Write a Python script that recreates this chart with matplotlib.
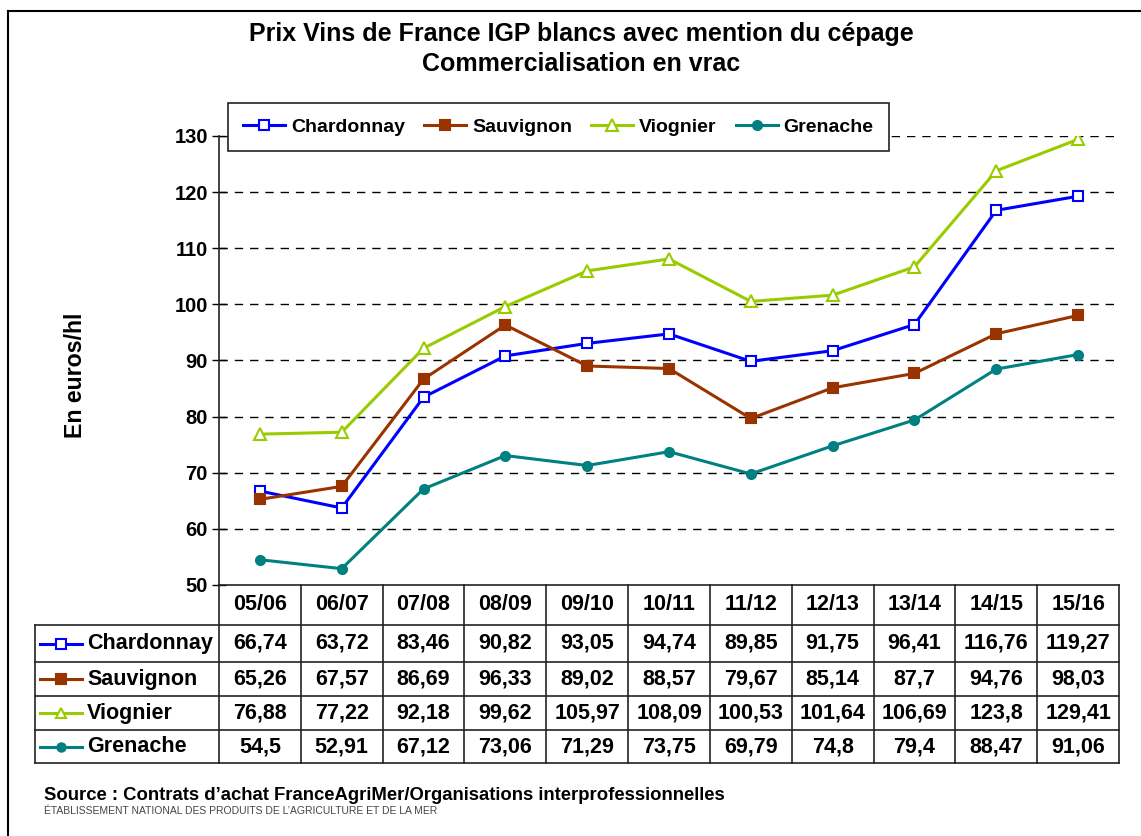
import matplotlib.pyplot as plt
import matplotlib.transforms as mtransforms
from matplotlib.lines import Line2D

plt.rcParams['font.family'] = ['Liberation Sans', 'DejaVu Sans']

# donnees (euros/hl)
campagnes = ["05/06", "06/07", "07/08", "08/09", "09/10", "10/11",
             "11/12", "12/13", "13/14", "14/15", "15/16"]
chardonnay = [66.74, 63.72, 83.46, 90.82, 93.05, 94.74, 89.85, 91.75, 96.41, 116.76, 119.27]
sauvignon = [65.26, 67.57, 86.69, 96.33, 89.02, 88.57, 79.67, 85.14, 87.7, 94.76, 98.03]
viognier = [76.88, 77.22, 92.18, 99.62, 105.97, 108.09, 100.53, 101.64, 106.69, 123.8, 129.41]
grenache = [54.5, 52.91, 67.12, 73.06, 71.29, 73.75, 69.79, 74.8, 79.4, 88.47, 91.06]
cepages = ["Chardonnay", "Sauvignon", "Viognier", "Grenache"]

W, H = 1141, 836
fig = plt.figure(figsize=(W / 100, H / 100), dpi=100)


def fx(px):
    return px / W


def fy(py):
    return 1 - py / H


ax = fig.add_axes([fx(219), fy(585), fx(1119) - fx(219), fy(136) - fy(585)])

styles = [
    dict(color='#0000FF', marker='s', mfc='white', ms=7),
    dict(color='#993300', marker='s', mfc='#993300', ms=7),
    dict(color='#99CC00', marker='^', mfc='white', ms=8),
    dict(color='#008080', marker='o', mfc='#008080', ms=6.5),
]
series = [chardonnay, sauvignon, viognier, grenache]
x = list(range(len(campagnes)))

for nom, vals, st in zip(cepages, series, styles):
    ax.plot(x, vals, color=st['color'], marker=st['marker'], mfc=st['mfc'],
            mec=st['color'], ms=st['ms'], mew=1.5, lw=2.2, label=nom, zorder=3)

ax.set_xlim(-0.5, len(campagnes) - 0.5)
ax.set_ylim(50, 130)
ax.set_yticks(range(50, 131, 10))
ax.set_xticks([])
for yv in range(60, 131, 10):
    ax.axhline(yv, color='black', lw=1, ls=(0, (6, 5)), zorder=1)
ax.spines['top'].set_visible(False)
ax.spines['right'].set_visible(False)
ax.spines['left'].set_color('#222222')
ax.spines['bottom'].set_color('#222222')
ax.spines['left'].set_linewidth(1.2)
ax.spines['bottom'].set_linewidth(1.2)
ax.tick_params(axis='y', direction='inout', length=10, width=1, labelsize=14.5, pad=3)
for lab in ax.get_yticklabels():
    lab.set_fontweight('bold')

# legende
leg = ax.legend(loc='upper left', bbox_to_anchor=(fx(228), fy(103)),
                bbox_transform=fig.transFigure, ncol=4, fancybox=False,
                edgecolor='#222222', framealpha=1, handlelength=2.15,
                columnspacing=1.0, handletextpad=0.3, borderpad=0.78,
                borderaxespad=0, prop={'size': 14, 'weight': 'bold'})
leg.get_frame().set_linewidth(1.2)
leg.set_zorder(5)

# titres
fig.text(fx(581), fy(34), "Prix Vins de France IGP blancs avec mention du cépage",
         ha='center', va='center', fontsize=18, fontweight='bold')
fig.text(fx(581), fy(64), "Commercialisation en vrac",
         ha='center', va='center', fontsize=18, fontweight='bold')
fig.text(fx(75), fy(375), "En euros/hl", rotation=90, ha='center', va='center',
         fontsize=16.7, fontweight='bold')

# tableau sous le graphique
tr = mtransforms.blended_transform_factory(ax.transData, fig.transFigure)
lignes = [585, 625, 662, 696, 730, 763]
lc = '#222222'
for i in range(len(campagnes) + 1):
    fig.add_artist(Line2D([i - 0.5, i - 0.5], [fy(585), fy(763)], transform=tr,
                          color=lc, lw=1.2))
for py in lignes[1:]:
    fig.add_artist(Line2D([fx(35), fx(1119)], [fy(py), fy(py)], color=lc, lw=1.2))
fig.add_artist(Line2D([fx(35), fx(35)], [fy(625), fy(763)], color=lc, lw=1.2))

for i, c in enumerate(campagnes):
    fig.text(i, fy((lignes[0] + lignes[1]) / 2), c, transform=tr, ha='center',
             va='center', fontsize=15.5, fontweight='bold')

for r, (nom, vals, st) in enumerate(zip(cepages, series, styles)):
    yc = fy((lignes[r + 1] + lignes[r + 2]) / 2)
    fig.add_artist(Line2D([fx(40), fx(82)], [yc, yc], color=st['color'], lw=2.2))
    fig.add_artist(Line2D([fx(61)], [yc], color=st['color'], marker=st['marker'],
                          mfc=st['mfc'], mec=st['color'], ms=st['ms'] - 0.5, mew=1.5))
    fig.text(fx(87), yc, nom, ha='left', va='center', fontsize=15.5, fontweight='bold')
    for i, v in enumerate(vals):
        fig.text(i, yc, str(v).replace('.', ','), transform=tr, ha='center',
                 va='center', fontsize=15.5, fontweight='bold')

# source
fig.text(fx(44), fy(796), "Source : Contrats d’achat FranceAgriMer/Organisations interprofessionnelles",
         ha='left', va='center', fontsize=13.3, fontweight='bold')
fig.text(fx(44), fy(811), "ÉTABLISSEMENT NATIONAL DES PRODUITS DE L’AGRICULTURE ET DE LA MER",
         ha='left', va='center', fontsize=7.5, color='#444444')

# cadre
fig.add_artist(Line2D([fx(8), fx(8)], [fy(11), 0], color='black', lw=1.5))
fig.add_artist(Line2D([fx(8), 1], [fy(11), fy(11)], color='black', lw=1.5))

fig.savefig('out.png', dpi=100)
